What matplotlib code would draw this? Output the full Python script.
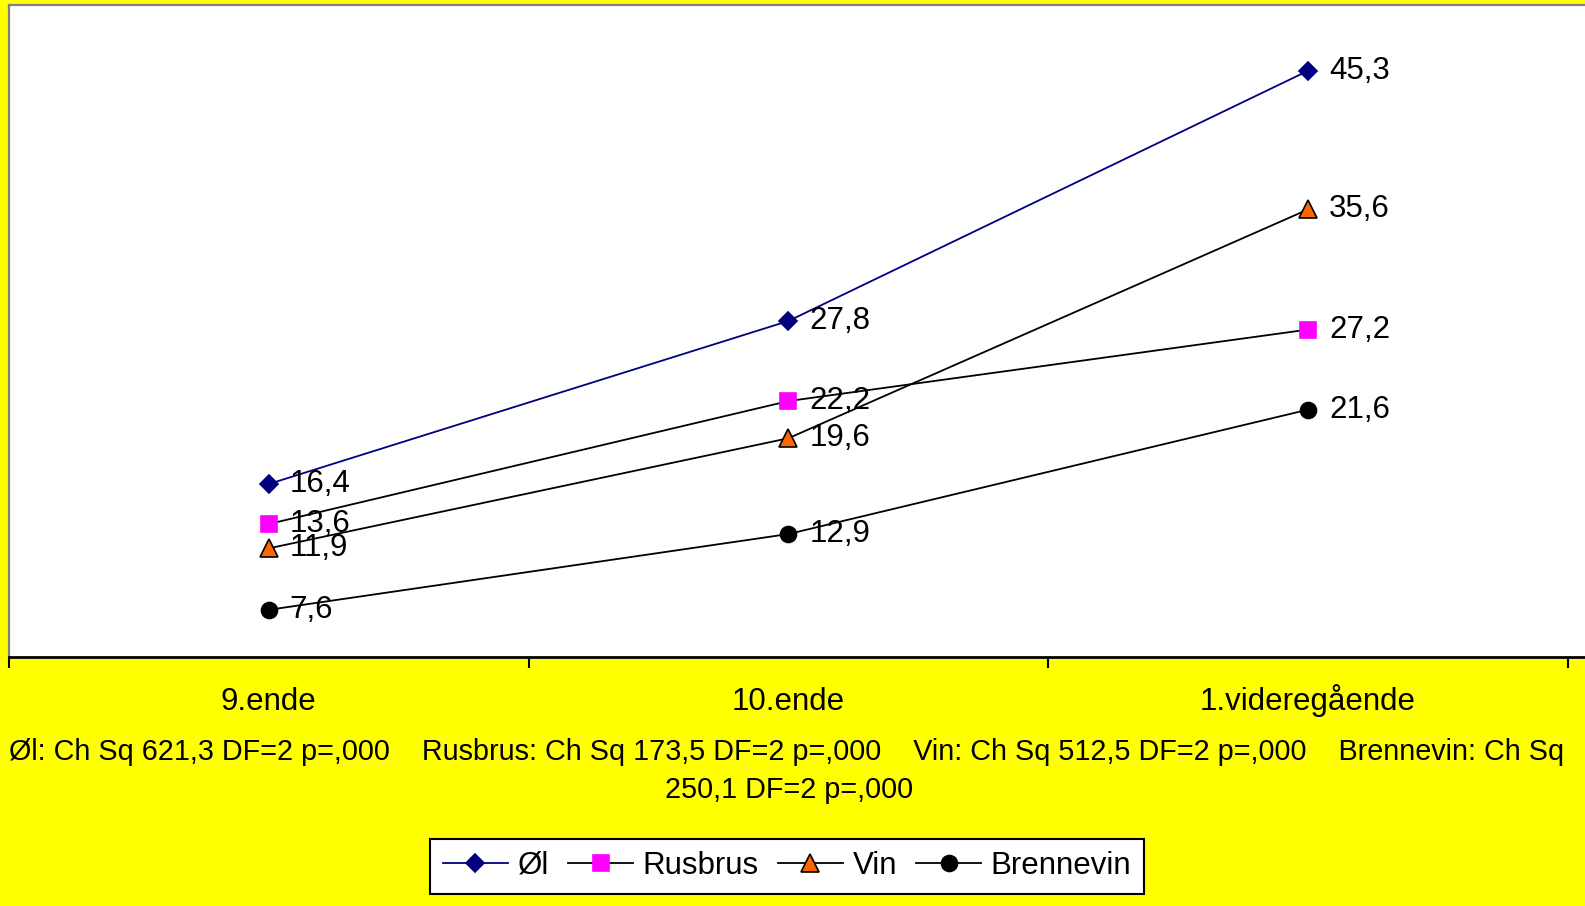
import numpy as np
import matplotlib
matplotlib.use('Agg')
import matplotlib.pyplot as plt

plt.rcParams['font.family'] = ['Liberation Sans', 'DejaVu Sans']

# data
kategorier = ['9.ende', '10.ende', '1.videregående']
ol = [16.4, 27.8, 45.3]
rusbrus = [13.6, 22.2, 27.2]
vin = [11.9, 19.6, 35.6]
brennevin = [7.6, 12.9, 21.6]
serier = ['Øl', 'Rusbrus', 'Vin', 'Brennevin']
statistikk = ['Øl: Ch Sq 621,3 DF=2 p=,000', 'Rusbrus: Ch Sq 173,5 DF=2 p=,000',
              'Vin: Ch Sq 512,5 DF=2 p=,000', 'Brennevin: Ch Sq',
              '250,1 DF=2 p=,000']

fs = 22.5

fig = plt.figure(figsize=(15.85, 9.06), dpi=100)
fig.patch.set_facecolor('#FFFF00')
ax = fig.add_axes([9/1585, 1 - 657/906, 1 - 9/1585, (657 - 5)/906])
ax.set_facecolor('white')

x = np.arange(len(kategorier))
stiler = [
    (ol, '#000080', 'D', '#000080', '#000080', 9.5),
    (rusbrus, 'black', 's', '#FF00FF', '#FF00FF', 11),
    (vin, 'black', '^', '#FF6600', 'black', 13),
    (brennevin, 'black', 'o', 'black', 'black', 11.5),
]
for (verdier, farge, mk, fc, ec, ms), navn in zip(stiler, serier):
    ax.plot(x, verdier, color=farge, lw=1.3, marker=mk, markersize=ms,
            markerfacecolor=fc, markeredgecolor=ec, markeredgewidth=1.2,
            label=navn, zorder=3)
    for xi, v in zip(x, verdier):
        ax.annotate(f'{v:.1f}'.replace('.', ','), (xi, v), xytext=(15, 0),
                    textcoords='offset points', va='center', ha='left',
                    fontsize=fs, zorder=4)

ax.set_xlim(-0.5, 2.533)
ax.set_ylim(4.3, 49.9)
ax.set_yticks([])
ax.set_xticks([-0.5, 0.5, 1.5, 2.5])
ax.set_xticklabels([])
ax.tick_params(axis='x', which='major', direction='out', length=8, width=1.5, color='black')

# kategorinavn under aksen
for xi, navn in zip(x, kategorier):
    ax.text(xi, -53/652, navn, transform=ax.get_xaxis_transform(),
            ha='center', va='baseline', fontsize=fs)

ax.spines['right'].set_visible(False)
ax.spines['top'].set_color('#808080')
ax.spines['top'].set_linewidth(1.6)
ax.spines['left'].set_color('#808080')
ax.spines['left'].set_linewidth(1.6)
ax.spines['bottom'].set_color('black')
ax.spines['bottom'].set_linewidth(2)

linje1 = '    '.join(statistikk[:4])
fig.text(787/1585, 1 - 752/906, linje1, ha='center', va='center', fontsize=20.7)
fig.text(789/1585, 1 - 790/906, statistikk[4], ha='center', va='center', fontsize=20.7)

leg = fig.legend(loc='center', bbox_to_anchor=(787/1585, 1 - 866/906), ncol=4,
                 fontsize=fs, frameon=True, fancybox=False, handlelength=2.1,
                 handletextpad=0.3, columnspacing=0.6, borderpad=0.4,
                 borderaxespad=0)
leg.get_frame().set_edgecolor('black')
leg.get_frame().set_linewidth(1.5)
leg.get_frame().set_facecolor('white')
leg.get_frame().set_alpha(1)

fig.savefig('out.png', dpi=100, facecolor=fig.get_facecolor())
